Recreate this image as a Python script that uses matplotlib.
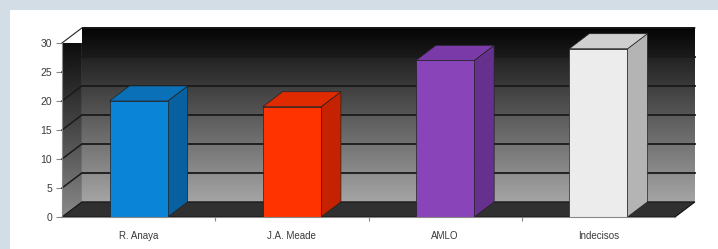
import numpy as np
import matplotlib
matplotlib.use("Agg")
import matplotlib.pyplot as plt
from matplotlib.patches import Polygon, Rectangle

# datos de la encuesta
candidatos = ["R. Anaya", "J.A. Meade", "AMLO", "Indecisos"]
valores = [20, 19, 27, 29]
yticks = [0, 5, 10, 15, 20, 25, 30]

# colores (frente, lado, arriba)
c_frente = ["#0a84d6", "#ff3300", "#8844b8", "#ececec"]
c_lado = ["#08609e", "#c42200", "#66308f", "#b4b4b4"]
c_arriba = ["#0a70b8", "#e02a00", "#7a3aa8", "#cfcfcf"]

plt.rcParams["font.family"] = ["Liberation Sans", "DejaVu Sans"]

fig = plt.figure(figsize=(7.18, 2.49), dpi=100)
fig.patch.set_facecolor("#d3dde6")
fig.patches.append(Rectangle((10 / 718, 0), 708 / 718, 239 / 249,
                             transform=fig.transFigure, facecolor="white",
                             edgecolor="none", zorder=-10))

ax = fig.add_axes([62 / 718, 32 / 249, 613 / 718, 174 / 249])
ax.set_facecolor("none")
ax.set_xlim(-0.5, 3.5)
ax.set_ylim(0, 30)

# profundidad del efecto 3D en unidades de datos
DX = 0.13
DY = 2.6
x0, x1 = -0.5, 3.5

# pared de fondo: bandas de gris, cada una con un leve degradado
tonos = [0.60, 0.50, 0.40, 0.29, 0.18, 0.06]
v = np.linspace(30, 0, 600)
k = np.clip((v // 5).astype(int), 0, 5)
frac = (v % 5) / 5
g = np.array(tonos)[k] + 0.09 * (0.5 - frac)
g = np.clip(g, 0, 1)
img = np.dstack([g, g, g])[0][:, None, :].repeat(2, axis=1)
im = ax.imshow(img, extent=[x0 + DX, x1 + DX, DY, 30 + DY], aspect="auto",
               zorder=1, interpolation="bilinear")
im.set_clip_on(False)

# lineas de la cuadricula
for t in yticks[1:-1]:
    ax.plot([x0 + DX, x1 + DX], [t + DY, t + DY], color="#1a1a1a", lw=1.3,
            zorder=2, clip_on=False)
    ax.plot([x0, x0 + DX], [t, t + DY], color="#1a1a1a", lw=1.1,
            zorder=4, clip_on=False)

# pared lateral izquierda (degradado continuo)
lateral = Polygon([(x0, 0), (x0 + DX, DY), (x0 + DX, 30 + DY), (x0, 30)],
                  closed=True, facecolor="none", edgecolor="none", zorder=3)
ax.add_patch(lateral)
v2 = np.linspace(30 + DY, 0, 600)
g2 = np.clip(0.52 * (1 - v2 / (30 + DY)) ** 1.1 + 0.02, 0, 1)
img2 = np.dstack([g2, g2, g2])[0][:, None, :].repeat(2, axis=1)
im2 = ax.imshow(img2, extent=[x0, x0 + DX, 0, 30 + DY], aspect="auto",
                zorder=3, interpolation="bilinear")
im2.set_clip_path(lateral)
lateral.set_clip_on(False)
ax.plot([x0, x0 + DX, x1 + DX], [30, 30 + DY, 30 + DY], color="#222222",
        lw=0.8, zorder=4, clip_on=False)

# piso
piso = Polygon([(x0, 0), (x0 + DX, DY), (x1 + DX, DY), (x1, 0)], closed=True,
               facecolor="#303030", edgecolor="#111111", lw=0.8, zorder=3,
               clip_on=False)
ax.add_patch(piso)

# barras 3D
ancho = 0.38
for i, val in enumerate(valores):
    a = i - ancho / 2
    b = i + ancho / 2
    ax.bar(i, val, width=ancho, color=c_frente[i], edgecolor="#222222",
           lw=0.5, zorder=6)
    ax.add_patch(Polygon([(b, 0), (b + DX, DY), (b + DX, val + DY), (b, val)],
                         closed=True, facecolor=c_lado[i], edgecolor="#222222",
                         lw=0.5, zorder=5, clip_on=False))
    ax.add_patch(Polygon([(a, val), (a + DX, val + DY), (b + DX, val + DY), (b, val)],
                         closed=True, facecolor=c_arriba[i], edgecolor="#222222",
                         lw=0.5, zorder=5, clip_on=False))

# ejes
for s in ["top", "right"]:
    ax.spines[s].set_visible(False)
for s in ["left", "bottom"]:
    ax.spines[s].set_color("#888888")
    ax.spines[s].set_linewidth(0.8)
    ax.spines[s].set_zorder(7)

ax.set_yticks(yticks)
ax.tick_params(axis="y", length=4, width=0.8, color="#888888", pad=3,
               labelsize=7.5, labelcolor="#3a3a3a")
ax.set_xticks(range(len(candidatos)))
ax.set_xticklabels(candidatos)
ax.set_xticks([0.5, 1.5, 2.5], minor=True)
ax.tick_params(axis="x", which="major", length=0, pad=10, labelsize=7,
               labelcolor="#3a3a3a")
ax.tick_params(axis="x", which="minor", length=3, width=0.8, color="#888888")

fig.savefig("out.png", dpi=100, facecolor=fig.get_facecolor())
